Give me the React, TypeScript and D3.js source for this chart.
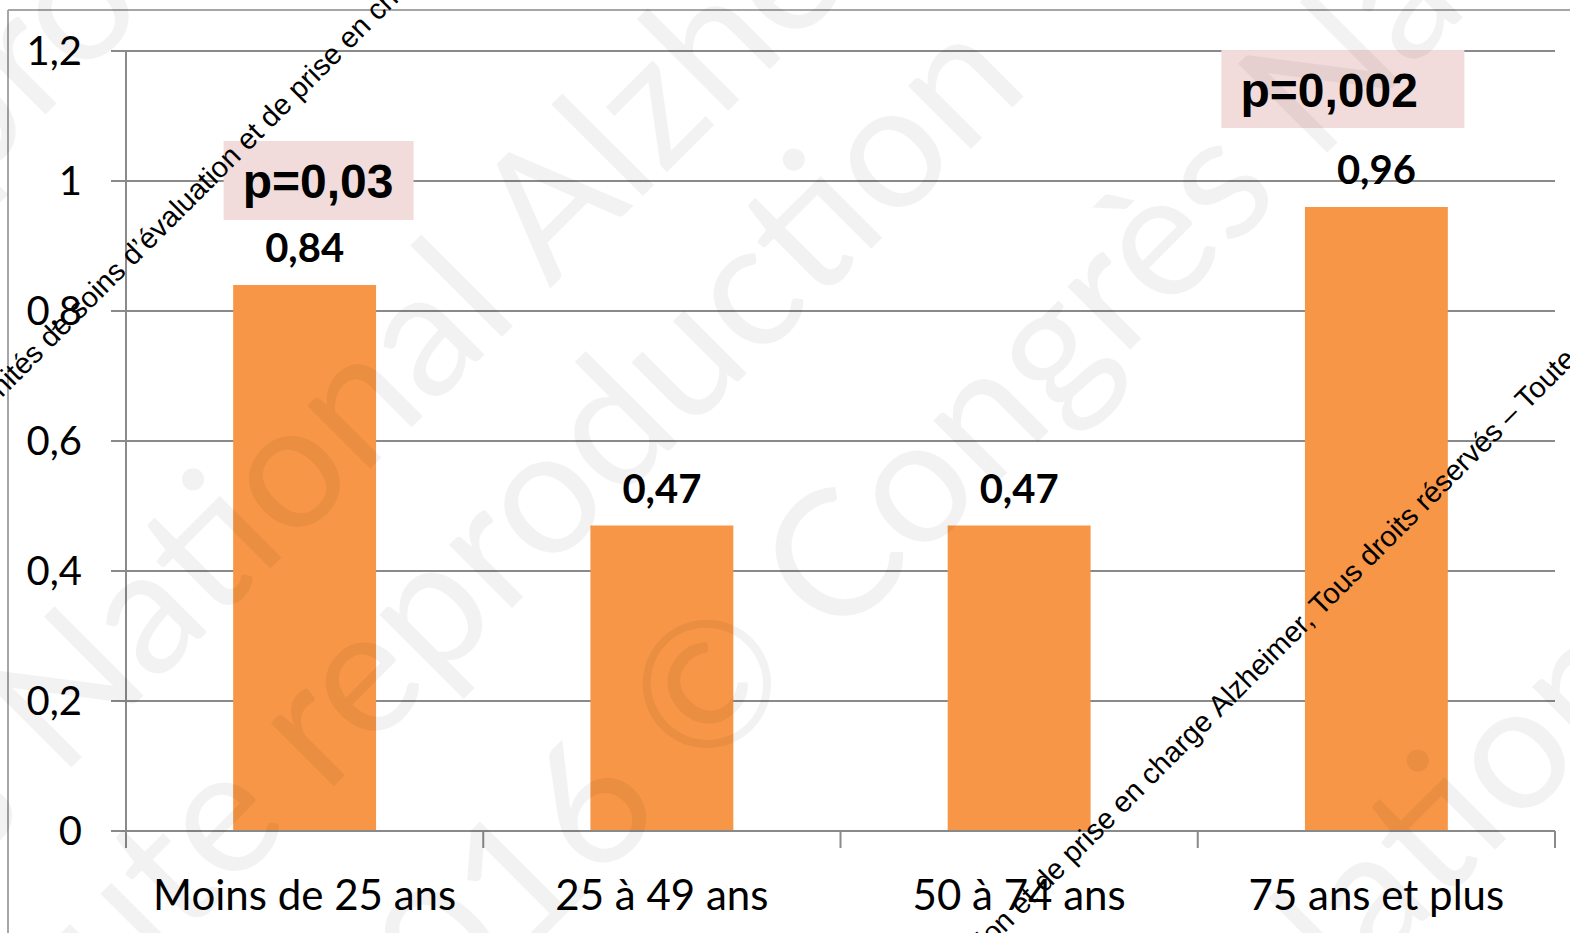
import React from "react";
import * as d3 from "d3";

const categories = ["Moins de 25 ans", "25 à 49 ans", "50 à 74 ans", "75 ans et plus"];
const values = [0.84, 0.47, 0.47, 0.96];
const valueLabels = ["0,84", "0,47", "0,47", "0,96"];
const yTicks = [0, 0.2, 0.4, 0.6, 0.8, 1, 1.2];
const yTickLabels = ["0", "0,2", "0,4", "0,6", "0,8", "1", "1,2"];
const pCategories = ["Moins de 25 ans", "75 ans et plus"];
const pLabels = ["p=0,03", "p=0,002"];
const pBoxTop = [1.0615, 1.2015];
const pBoxBottom = [0.94, 1.0815];

const W = 1570;
const H = 933;
const PLOT_L = 126;
const PLOT_R = 1555;
const Y0 = 831;
const Y1 = 51;
const GRID = "#8a8a8a";
const BAR = "#f79646";
const NB = "\u00A0";

// big faint watermark pieces: [prefix, suffix, x, y]
const wmBig: [string, string, number, number][] = [
  ["Toute repro", "duction", 150, 10],
  ["Congrès" + NB, "National Alzheimer", 60, 779],
  ["Toute" + NB, "reproduction", 325, 795],
  ["2016 ©" + NB, "Congrès National", 835, 645],
  ["2016 © Congrès Na", "tional Alzheimer", 1439, 906],
];

const smallPrefix1 = "Congrès National des" + NB;
const smallSuffix1 =
  "Unités de soins d’évaluation et de prise en charge Alzheimer, Tous droits réservés – Toute reproduction interdite";
const smallPrefix2 = "Congrès National des Unités de soins d’évaluation et de prise en charge" + NB;
const smallSuffix2 = "Alzheimer, Tous droits réservés – Toute reproduction interdite";
const smallLines: [string, string, number, number][] = [
  [smallPrefix1, smallSuffix1, -13, 413],
  [smallPrefix2, smallSuffix2, 1220, 718],
];

export default function App() {
  const x = d3.scaleBand<string>().domain(categories).range([PLOT_L, PLOT_R]).paddingInner(0).paddingOuter(0);
  const y = d3.scaleLinear().domain([0, 1.2]).range([Y0, Y1]);
  const bw = x.bandwidth();
  const barW = bw * 0.4;
  const boundaries = [...categories.map((c) => x(c) as number), PLOT_R];
  const pBoxLeftOffset = [-81, -155];
  const pBoxWidth = [190, 243];

  return (
    <svg
      width={W}
      height={H}
      viewBox={`0 0 ${W} ${H}`}
      style={{ position: "absolute", left: 0, top: 0, background: "#fff" }}
    >
      <rect x={0} y={0} width={W} height={H} fill="#fff" />
      {/* outer frame */}
      <line x1={8} y1={10} x2={W} y2={10} stroke="#a6a6a6" strokeWidth={2} />
      <line x1={8} y1={10} x2={8} y2={H} stroke="#a6a6a6" strokeWidth={2} />

      {/* gridlines */}
      {yTicks.map((t, i) => (
        <line key={"g" + i} x1={PLOT_L - 15} x2={PLOT_R} y1={y(t)} y2={y(t)} stroke={GRID} strokeWidth={2} />
      ))}

      {/* bars */}
      {categories.map((c, i) => (
        <rect
          key={"b" + i}
          x={(x(c) as number) + (bw - barW) / 2}
          y={y(values[i])}
          width={barW}
          height={Y0 - y(values[i])}
          fill={BAR}
        />
      ))}

      {/* axes */}
      <line x1={PLOT_L} x2={PLOT_L} y1={Y1} y2={Y0 + 17} stroke={GRID} strokeWidth={2} />
      <line x1={PLOT_L - 15} x2={PLOT_R} y1={Y0} y2={Y0} stroke={GRID} strokeWidth={2} />
      {boundaries.map((bx, i) => (
        <line key={"t" + i} x1={bx} x2={bx} y1={Y0} y2={Y0 + 17} stroke={GRID} strokeWidth={2} />
      ))}

      {/* y tick labels */}
      {yTicks.map((t, i) => (
        <text
          key={"yl" + i}
          x={82}
          y={y(t)}
          dy="0.36em"
          textAnchor="end"
          fontFamily="Lato, 'Open Sans', sans-serif"
          fontSize={40}
          fill="#000"
        >
          {yTickLabels[i]}
        </text>
      ))}

      {/* category labels */}
      {categories.map((c, i) => (
        <text
          key={"xl" + i}
          x={(x(c) as number) + bw / 2}
          y={910}
          textAnchor="middle"
          fontFamily="Lato, 'Open Sans', sans-serif"
          fontSize={42}
          fill="#000"
        >
          {c}
        </text>
      ))}

      {/* value labels */}
      {categories.map((c, i) => (
        <text
          key={"vl" + i}
          x={(x(c) as number) + bw / 2}
          y={y(values[i]) - 23}
          textAnchor="middle"
          fontFamily="Lato, 'Open Sans', sans-serif"
          fontWeight="bold"
          fontSize={40}
          fill="#000"
        >
          {valueLabels[i]}
        </text>
      ))}

      {/* p-value boxes */}
      {pCategories.map((c, i) => {
        const cx = (x(c) as number) + bw / 2;
        const top = y(pBoxTop[i]);
        const bottom = y(pBoxBottom[i]);
        const left = cx + pBoxLeftOffset[i];
        return (
          <g key={"p" + i}>
            <rect x={left} y={top} width={pBoxWidth[i]} height={bottom - top} fill="#f2dcdb" />
            <text
              x={left + 19}
              y={top + 57}
              fontFamily="'Liberation Sans', Arial, sans-serif"
              fontWeight="bold"
              fontSize={48}
              fill="#000"
            >
              {pLabels[i]}
            </text>
          </g>
        );
      })}

      {/* big faint watermark */}
      <g fontFamily="Lato, 'Open Sans', sans-serif" fontSize={176} fill="#000" fillOpacity={0.05}>
        {wmBig.map(([pre, suf, wx, wy], i) => (
          <g key={"wm" + i} transform={`translate(${wx},${wy}) rotate(-45)`}>
            <text x={0} y={0} textAnchor="end">
              {pre}
            </text>
            <text x={0} y={0} textAnchor="start">
              {suf}
            </text>
          </g>
        ))}
      </g>

      {/* small black watermark lines */}
      <g fontFamily="'Liberation Sans', Arial, sans-serif" fontSize={29} fill="#000">
        {smallLines.map(([pre, suf, wx, wy], i) => (
          <g key={"sl" + i} transform={`translate(${wx},${wy}) rotate(-45)`}>
            <text x={0} y={0} textAnchor="end">
              {pre}
            </text>
            <text x={0} y={0} textAnchor="start">
              {suf}
            </text>
          </g>
        ))}
      </g>
    </svg>
  );
}
